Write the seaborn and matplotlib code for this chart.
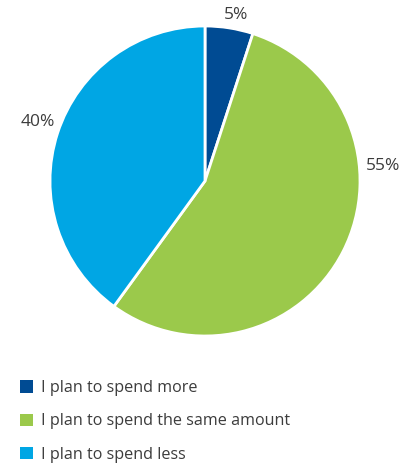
import matplotlib
matplotlib.use("Agg")
import matplotlib.pyplot as plt
import seaborn as sns

sns.set_theme(style="white")
plt.rcParams["font.family"] = ["Open Sans", "DejaVu Sans"]

categories = ["I plan to spend more", "I plan to spend the same amount", "I plan to spend less"]
shares = [5, 55, 40]
colors = ["#004b93", "#9bc94b", "#00a6e4"]
label_pos = [(0.20, 1.07), (1.15, 0.10), (-1.08, 0.38)]

W, H = 408, 463
fig = plt.figure(figsize=(W / 100, H / 100), dpi=100)
cx, cy, r = 205, 181, 155
ax = fig.add_axes([(cx - r) / W, (H - cy - r) / H, 2 * r / W, 2 * r / H])

wedges, _ = ax.pie(shares, colors=colors, startangle=90, counterclock=False,
                   wedgeprops=dict(edgecolor="white", linewidth=2))
ax.set_xlim(-1, 1)
ax.set_ylim(-1, 1)
ax.set_aspect("equal")
ax.axis("off")

for val, (x, y) in zip(shares, label_pos):
    ax.text(x, y, f"{val}%", ha="center", va="center", fontsize=12.5,
            color="#3c3c3c", clip_on=False)

leg = fig.legend(wedges, categories, loc="upper left",
                 bbox_to_anchor=(12 / W, 1 - 372 / H), frameon=False,
                 fontsize=11.6, handlelength=0.78, handleheight=0.78,
                 handletextpad=0.5, labelspacing=1.08, borderpad=0,
                 labelcolor="#3c3c3c")
for h in leg.legend_handles:
    h.set_edgecolor("none")

fig.savefig("out.png", dpi=100)
